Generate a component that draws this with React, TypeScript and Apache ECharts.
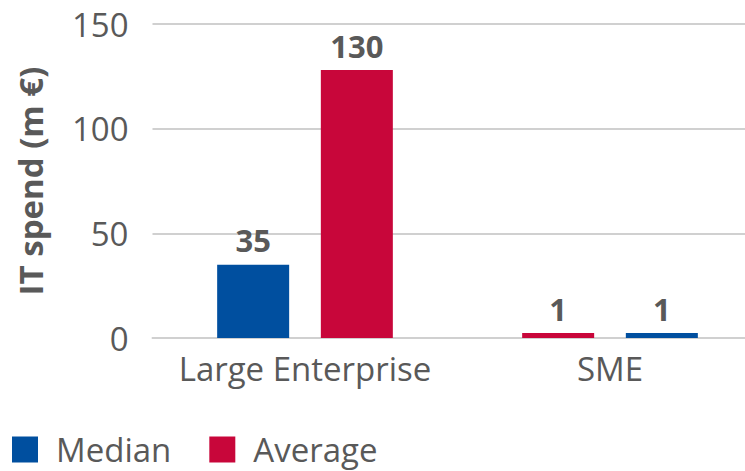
import React, { useEffect, useRef } from "react";
import * as echarts from "echarts";

const categories = ["Large Enterprise", "SME"];
const seriesNames = ["Median", "Average"];
const medianValues = [35, 1];
const averageValues = [128, 1];
const medianLabels = ["35", "1"];
const averageLabels = ["130", "1"];
// slot order per category: which series is drawn left
const leftSlot = ["Median", "Average"];
const yTicks = { min: 0, max: 150, interval: 50 };

const BLUE = "#004f9f";
const RED = "#c8063a";
const TEXT = "#595959";
const FONT = "Open Sans";

export default function App() {
  const ref = useRef<HTMLDivElement>(null);
  useEffect(() => {
    document.body.style.margin = "0";
    document.body.style.overflow = "hidden";
    const chart = echarts.init(ref.current!, null, { renderer: "svg" });
    const values: Record<string, number[]> = { Median: medianValues, Average: averageValues };
    const labels: Record<string, string[]> = { Median: medianLabels, Average: averageLabels };
    const colors: Record<string, string> = { Median: BLUE, Average: RED };
    const series: any[] = [];
    categories.forEach((cat, ci) => {
      seriesNames.forEach((name) => {
        const stack = leftSlot[ci] === name ? "left" : "right";
        series.push({
          type: "bar",
          name,
          stack,
          barWidth: 72,
          barGap: "44%",
          barMinHeight: 5,
          itemStyle: { color: colors[name] },
          label: {
            show: true,
            position: "top",
            distance: 9,
            fontFamily: FONT,
            fontWeight: "bold",
            fontSize: 31,
            color: TEXT,
            formatter: (p: any) => labels[name][p.dataIndex],
          },
          data: categories.map((_, i) => (i === ci ? values[name][i] : "-")),
        });
      });
    });
    chart.setOption({
      animation: false,
      textStyle: { fontFamily: FONT },
      grid: { left: 152.5, width: 610, top: 24, bottom: 133, containLabel: false },
      legend: {
        data: seriesNames,
        left: 12,
        top: 433,
        icon: "rect",
        itemWidth: 26,
        itemHeight: 26,
        itemGap: 38,
        padding: 0,
        textStyle: { fontFamily: FONT, fontSize: 33, lineHeight: 30, color: TEXT, padding: [0, 0, 0, 13] },
      },
      xAxis: {
        type: "category",
        data: categories,
        axisTick: { show: false },
        axisLine: { lineStyle: { color: "#d0d0d0", width: 2 } },
        axisLabel: { fontFamily: FONT, fontSize: 33, color: TEXT, margin: 14, interval: 0 },
      },
      yAxis: {
        type: "value",
        min: yTicks.min,
        max: yTicks.max,
        interval: yTicks.interval,
        name: "IT spend (m €)",
        nameLocation: "middle",
        nameGap: 106,
        nameTextStyle: { fontFamily: FONT, fontSize: 33, fontWeight: "bold", color: TEXT },
        axisLine: { show: false },
        axisTick: { show: false },
        splitLine: { lineStyle: { color: "#d0d0d0", width: 2 } },
        axisLabel: { fontFamily: FONT, fontSize: 33, color: TEXT, margin: 24 },
      },
      series,
    });
    return () => chart.dispose();
  }, []);
  return <div ref={ref} style={{ width: 763, height: 471 }} />;
}
